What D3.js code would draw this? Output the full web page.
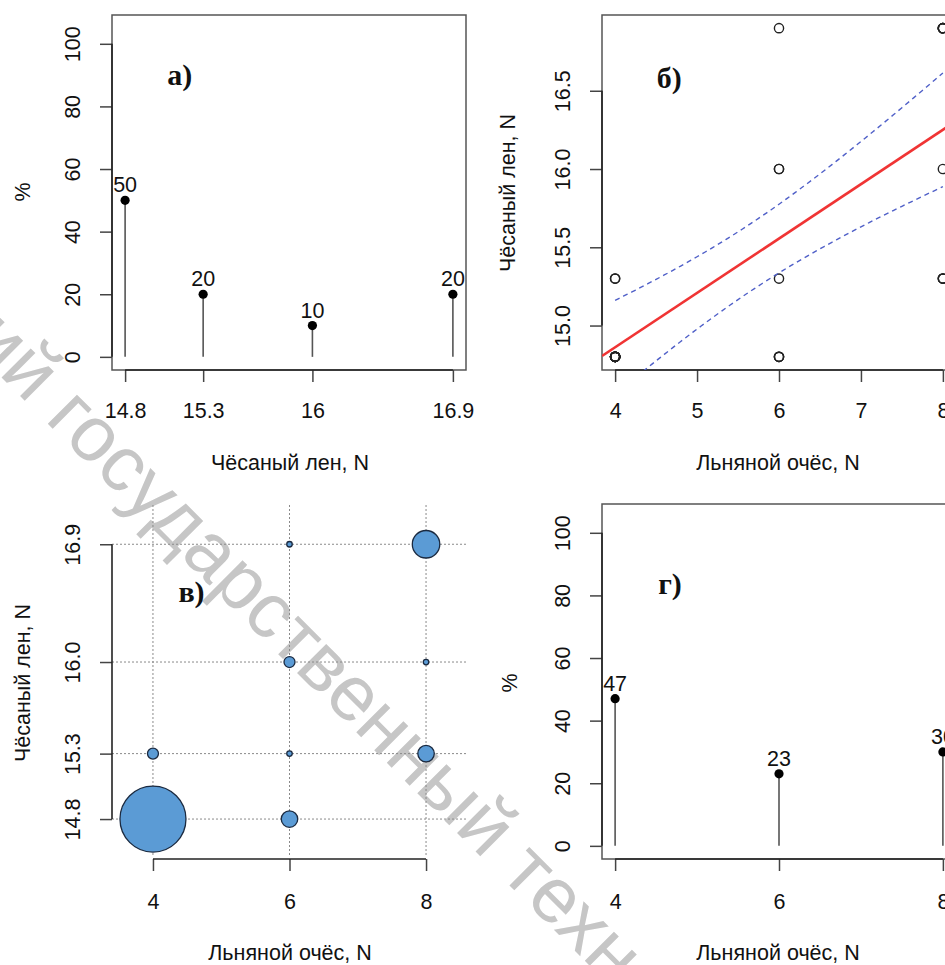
<!DOCTYPE html>
<html>
<head>
<meta charset="utf-8">
<script src="https://cdn.jsdelivr.net/npm/d3@7"></script>
<style>
body { margin: 0; background: #fff; }
</style>
</head>
<body>
<div id="chart"></div>
<script>
const W = 945, H = 965;
const SANS = '"Liberation Sans", Arial, sans-serif';
const SERIF = '"Liberation Serif", "Times New Roman", serif';
const FS = 21.5;

// а) чёсаный лен, % of samples
const combedLevels = [14.8, 15.3, 16, 16.9];
const combedPct = [50, 20, 10, 20];
// г) льняной очёс, % of samples
const towLevels = [4, 6, 8];
const towPct = [47, 23, 30];
// б), в) joint counts: очёс, лен, number of samples
const pairTow = [4, 4, 6, 6, 6, 6, 8, 8, 8];
const pairCombed = [14.8, 15.3, 14.8, 15.3, 16.0, 16.9, 15.3, 16.0, 16.9];
const pairCount = [12, 2, 3, 1, 2, 1, 3, 1, 5];

const pctTicks = [0, 20, 40, 60, 80, 100];
const combedTickLabels = ["14.8", "15.3", "16", "16.9"];
const fitTicksX = [4, 5, 6, 7, 8];
const fitTicksY = [15.0, 15.5, 16.0, 16.5];
const fitTickLabelsY = ["15.0", "15.5", "16.0", "16.5"];
const bubbleTickLabelsY = ["14.8", "15.3", "16.0", "16.9"];
const towTicks = [4, 6, 8];

const pad = ([a, b]) => [a - (b - a) * 0.04, b + (b - a) * 0.04];

const svg = d3.select("#chart").append("svg")
  .attr("width", W).attr("height", H)
  .style("display", "block");

// watermark from the scanned page
svg.append("text")
  .attr("transform", "translate(-33,343) rotate(45)")
  .attr("font-family", SANS)
  .attr("font-size", 78)
  .attr("fill", "#c6c6c6")
  .text("ий государственный технологический университет");

function yAxis(y, x0, vals, labels, off) {
  const ax = svg.append("g").attr("transform", `translate(${x0},0)`)
    .call(d3.axisLeft(y).tickValues(vals).tickFormat((d, i) => labels[i]).tickSize(12));
  ax.attr("font-size", FS).attr("font-family", SANS);
  ax.select(".domain").remove();
  ax.append("line")
    .attr("y1", y(vals[0])).attr("y2", y(vals[vals.length - 1]))
    .attr("stroke", "#222").attr("stroke-width", 1.6);
  ax.selectAll(".tick line").attr("stroke", "#444").attr("stroke-width", 1.5);
  ax.selectAll(".tick text")
    .attr("transform", "rotate(-90)")
    .attr("x", 0).attr("y", -off).attr("dy", null)
    .attr("text-anchor", "middle").attr("fill", "#111");
}

function xAxis(x, y0, vals, labels, off) {
  const ax = svg.append("g").attr("transform", `translate(0,${y0})`)
    .call(d3.axisBottom(x).tickValues(vals).tickFormat((d, i) => labels[i]).tickSize(12));
  ax.attr("font-size", FS).attr("font-family", SANS);
  ax.select(".domain").remove();
  ax.append("line")
    .attr("x1", x(vals[0])).attr("x2", x(vals[vals.length - 1]))
    .attr("stroke", "#222").attr("stroke-width", 1.6);
  ax.selectAll(".tick line").attr("stroke", "#444").attr("stroke-width", 1.5);
  ax.selectAll(".tick text")
    .attr("y", off).attr("dy", null).attr("fill", "#111");
}

function title(x, y, txt, rotate) {
  svg.append("text")
    .attr("transform", `translate(${x},${y})` + (rotate ? " rotate(-90)" : ""))
    .attr("text-anchor", "middle")
    .attr("font-family", SANS).attr("font-size", FS).attr("fill", "#111")
    .text(txt);
}

function tag(x, y, txt) {
  svg.append("text")
    .attr("x", x).attr("y", y)
    .attr("text-anchor", "middle")
    .attr("font-family", SERIF).attr("font-weight", "bold")
    .attr("font-size", 30).attr("fill", "#111")
    .text(txt);
}

function box(r) {
  svg.append("rect")
    .attr("x", r.x0).attr("y", r.y0)
    .attr("width", r.x1 - r.x0).attr("height", r.y1 - r.y0)
    .attr("fill", "none").attr("stroke", "#555").attr("stroke-width", 1.5);
}

function clip(id, r) {
  svg.append("clipPath").attr("id", id).append("rect")
    .attr("x", r.x0).attr("y", r.y0)
    .attr("width", r.x1 - r.x0).attr("height", r.y1 - r.y0);
  return `url(#${id})`;
}

function stems(x, y, levels, pct) {
  const g = svg.append("g");
  g.selectAll("line.stem").data(levels).join("line")
    .attr("x1", d => x(d)).attr("x2", d => x(d))
    .attr("y1", y(0)).attr("y2", (d, i) => y(pct[i]))
    .attr("stroke", "#555").attr("stroke-width", 1.6);
  g.selectAll("circle").data(levels).join("circle")
    .attr("cx", d => x(d)).attr("cy", (d, i) => y(pct[i]))
    .attr("r", 4.6).attr("fill", "#000");
  g.selectAll("text").data(levels).join("text")
    .attr("x", d => x(d)).attr("y", (d, i) => y(pct[i]) - 8)
    .attr("text-anchor", "middle")
    .attr("font-family", SANS).attr("font-size", FS).attr("fill", "#111")
    .text((d, i) => pct[i]);
}

// ---------- а) ----------
const ra = { x0: 112, x1: 466, y0: 15, y1: 370 };
const xa = d3.scaleLinear().domain(pad([14.8, 16.9])).range([ra.x0, ra.x1]);
const ya = d3.scaleLinear().domain(pad([0, 105])).range([ra.y1, ra.y0]);
box(ra);
yAxis(ya, ra.x0, pctTicks, pctTicks.map(String), 32);
xAxis(xa, ra.y1, combedLevels, combedTickLabels, 48);
stems(xa, ya, combedLevels, combedPct);
title(290, 470, "Чёсаный лен, N");
title(30, 192, "%", true);
tag(xa(15.15), ya(86.7), "а)");

// ---------- б) ----------
const rb = { x0: 602, x1: 956, y0: 15, y1: 370 };
const xb = d3.scaleLinear().domain(pad([4, 8])).range([rb.x0, rb.x1]);
const yb = d3.scaleLinear().domain(pad([14.8, 16.9])).range([rb.y1, rb.y0]);
box(rb);
yAxis(yb, rb.x0, fitTicksY, fitTickLabelsY, 32);
xAxis(xb, rb.y1, fitTicksX, fitTicksX.map(String), 48);
title(778, 470, "Льняной очёс, N");
title(515, 193, "Чёсаный лен, N", true);
tag(xb(4.66), yb(16.52), "б)");

// individual observations and least-squares fit with 95% band
const obs = [];
pairTow.forEach((t, i) => { for (let k = 0; k < pairCount[i]; k++) obs.push([t, pairCombed[i]]); });
const n = obs.length;
const mx = d3.mean(obs, d => d[0]), my = d3.mean(obs, d => d[1]);
const sxx = d3.sum(obs, d => (d[0] - mx) ** 2);
const sxy = d3.sum(obs, d => (d[0] - mx) * (d[1] - my));
const slope = sxy / sxx, icpt = my - slope * mx;
const se = Math.sqrt(d3.sum(obs, d => (d[1] - icpt - slope * d[0]) ** 2) / (n - 2));
const T975 = 2.048; // t quantile, df = 28
const band = d3.range(4, 8.0001, 0.05).map(t => {
  const h = T975 * se * Math.sqrt(1 / n + (t - mx) ** 2 / sxx);
  const f = icpt + slope * t;
  return [t, f - h, f + h];
});

const gb = svg.append("g").attr("clip-path", clip("clipb", rb));
gb.selectAll("circle").data(obs).join("circle")
  .attr("cx", d => xb(d[0])).attr("cy", d => yb(d[1]))
  .attr("r", 4.6).attr("fill", "none")
  .attr("stroke", "#222").attr("stroke-width", 1.4);
gb.append("line")
  .attr("x1", xb(xb.domain()[0])).attr("y1", yb(icpt + slope * xb.domain()[0]))
  .attr("x2", xb(xb.domain()[1])).attr("y2", yb(icpt + slope * xb.domain()[1]))
  .attr("stroke", "#f03434").attr("stroke-width", 2.6);
[1, 2].forEach(k => {
  gb.append("path")
    .attr("d", d3.line().x(d => xb(d[0])).y(d => yb(d[k]))(band))
    .attr("fill", "none").attr("stroke", "#5060c8")
    .attr("stroke-width", 1.4).attr("stroke-dasharray", "5,4");
});

// ---------- в) ----------
const rv = { x0: 112, x1: 467, y0: 505, y1: 857 };
const xv = d3.scaleLinear().domain([3.4, 8.6]).range([rv.x0, rv.x1]);
const yv = d3.scaleLinear().domain([14.51, 17.2]).range([rv.y1, rv.y0]);
const rScale = d3.scaleLinear().domain([0, 12]).range([0, 33]);
const combedVals = [14.8, 15.3, 16.0, 16.9];

const grid = svg.append("g").attr("stroke", "#8a8a8a").attr("stroke-width", 1)
  .attr("stroke-dasharray", "2,2");
grid.selectAll("line.v").data(towTicks).join("line").attr("class", "v")
  .attr("x1", d => xv(d)).attr("x2", d => xv(d))
  .attr("y1", rv.y0).attr("y2", rv.y1);
grid.selectAll("line.h").data(combedVals).join("line").attr("class", "h")
  .attr("y1", d => yv(d)).attr("y2", d => yv(d))
  .attr("x1", rv.x0).attr("x2", rv.x1);

yAxis(yv, rv.x0, combedVals, bubbleTickLabelsY, 32);
xAxis(xv, rv.y1 + 2, towTicks, towTicks.map(String), 50);

const bubbles = pairTow.map((t, i) => ({ t, c: pairCombed[i], n: pairCount[i] }))
  .sort((a, b) => b.n - a.n);
svg.append("g").selectAll("circle").data(bubbles).join("circle")
  .attr("cx", d => xv(d.t)).attr("cy", d => yv(d.c))
  .attr("r", d => rScale(d.n))
  .attr("fill", "#5b9bd5").attr("stroke", "#1b2a40").attr("stroke-width", 1.3);
title(290, 960, "Льняной очёс, N");
title(30, 683, "Чёсаный лен, N", true);
tag(xv(4.565), yv(16.46), "в)");

// ---------- г) ----------
const rg = { x0: 602, x1: 956, y0: 504, y1: 859 };
const xg = d3.scaleLinear().domain(pad([4, 8])).range([rg.x0, rg.x1]);
const yg = d3.scaleLinear().domain(pad([0, 105])).range([rg.y1, rg.y0]);
box(rg);
yAxis(yg, rg.x0, pctTicks, pctTicks.map(String), 32);
xAxis(xg, rg.y1, towTicks, towTicks.map(String), 50);
stems(xg, yg, towLevels, towPct);
title(778, 960, "Льняной очёс, N");
title(517, 683, "%", true);
tag(xg(4.67), yg(80.3), "г)");
</script>
</body>
</html>
